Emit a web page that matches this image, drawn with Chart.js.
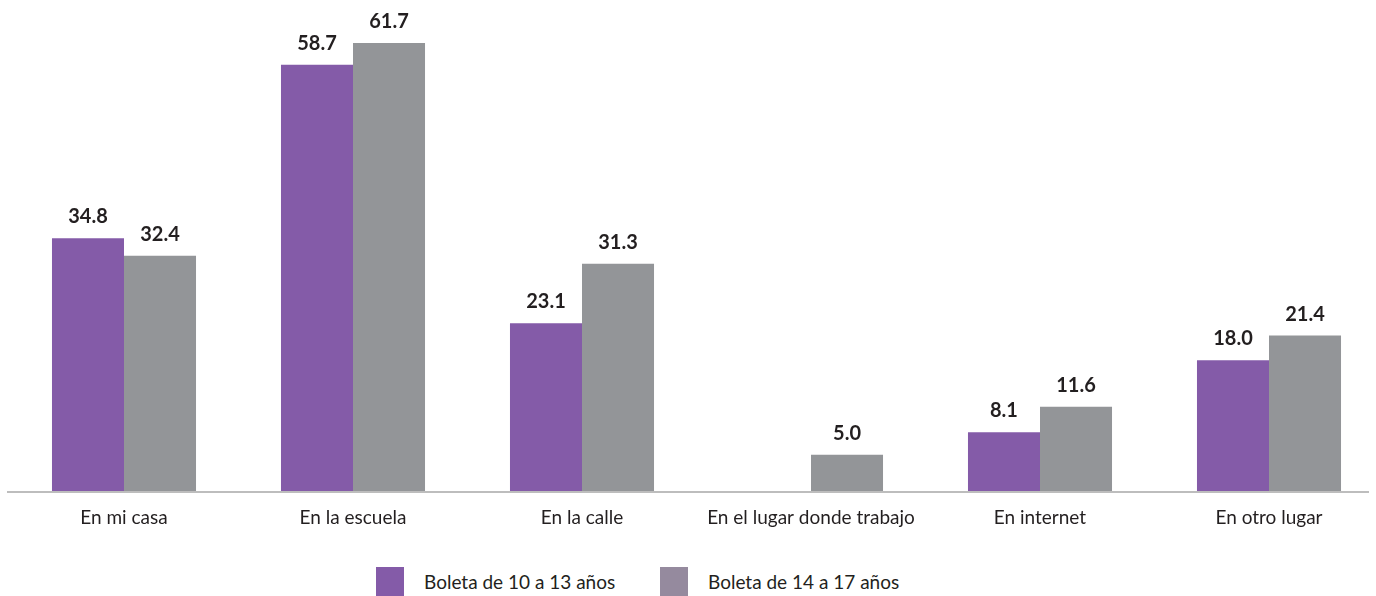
<!DOCTYPE html>
<html>
<head>
<meta charset="utf-8">
<script src="https://cdn.jsdelivr.net/npm/chart.js@4"></script>
<style>
  html, body { margin: 0; padding: 0; background: #fff; overflow: hidden; }
  #wrap { position: relative; width: 1376px; height: 596px; overflow: hidden; }
  #box { position: absolute; left: 0; top: 0; width: 1390px; height: 530px; }
  .leg { position: absolute; top: 567px; height: 29px; font: 19px Lato, sans-serif; color: #231F20; }
  .leg span.sw { position: absolute; left: 0; top: 0; width: 28px; height: 29px; }
  .leg span.tx { position: absolute; left: 48px; top: 3px; white-space: nowrap; }
</style>
</head>
<body>
<div id="wrap">
  <div id="box"><canvas id="chart"></canvas></div>
  <div class="leg" style="left:376px"><span class="sw" id="sw0"></span><span class="tx" id="tx0"></span></div>
  <div class="leg" style="left:660px"><span class="sw" id="sw1"></span><span class="tx" id="tx1"></span></div>
</div>
<script>
// categorias y valores
const categories = ['En mi casa', 'En la escuela', 'En la calle', 'En el lugar donde trabajo', 'En internet', 'En otro lugar'];
const serie10a13 = [34.8, 58.7, 23.1, null, 8.1, 18.0];
const serie14a17 = [32.4, 61.7, 31.3, 5.0, 11.6, 21.4];
const seriesNames = ['Boleta de 10 a 13 años', 'Boleta de 14 a 17 años'];
const barColors = ['#845BA8', '#939598'];
const legendColors = ['#845BA8', '#958A9E'];

// etiquetas de valor encima de las barras
const valueLabels = {
    id: 'valueLabels',
    afterDatasetsDraw(chart) {
        const ctx = chart.ctx;
        ctx.save();
        ctx.font = 'bold 20px Lato, sans-serif';
        ctx.fillStyle = '#231F20';
        ctx.textAlign = 'center';
        ctx.textBaseline = 'alphabetic';
        chart.data.datasets.forEach(function(ds, i) {
            chart.getDatasetMeta(i).data.forEach(function(bar, j) {
                const v = ds.data[j];
                if (v === null || v === undefined) return;
                ctx.fillText(v.toFixed(1), bar.x, bar.y - 15);
            });
        });
        ctx.restore();
    }
};

// linea base del eje x
const baseLine = {
    id: 'baseLine',
    afterDatasetsDraw(chart) {
        const ctx = chart.ctx;
        const y = chart.scales.y.getPixelForValue(0);
        ctx.save();
        ctx.strokeStyle = '#BDBDBD';
        ctx.lineWidth = 2;
        ctx.beginPath();
        ctx.moveTo(7, y + 1);
        ctx.lineTo(1369, y + 1);
        ctx.stroke();
        ctx.restore();
    }
};

const ctx = document.getElementById('chart').getContext('2d');
const chart = new Chart(ctx, {
    type: 'bar',
    data: {
        labels: categories,
        datasets: [
            { label: seriesNames[0], data: serie10a13, backgroundColor: barColors[0] },
            { label: seriesNames[1], data: serie14a17, backgroundColor: barColors[1] }
        ]
    },
    options: {
        responsive: true,
        maintainAspectRatio: false,
        animation: false,
        layout: { padding: { left: 9.5, right: 6.5, top: 19, bottom: 0 } },
        datasets: { bar: { categoryPercentage: 0.629, barPercentage: 1 } },
        plugins: { legend: { display: false }, tooltip: { enabled: false } },
        scales: {
            x: {
                grid: { display: false, drawTicks: false },
                border: { display: false },
                ticks: { color: '#231F20', font: { family: 'Lato', size: 19 }, padding: 15, maxRotation: 0 },
                afterFit: function(scale) { scale.height = 39; }
            },
            y: {
                display: false,
                min: 0,
                max: 65
            }
        }
    },
    plugins: [valueLabels, baseLine]
});

// leyenda
for (let i = 0; i < 2; i++) {
    document.getElementById('sw' + i).style.background = legendColors[i];
    document.getElementById('tx' + i).textContent = seriesNames[i];
}
</script>
</body>
</html>
